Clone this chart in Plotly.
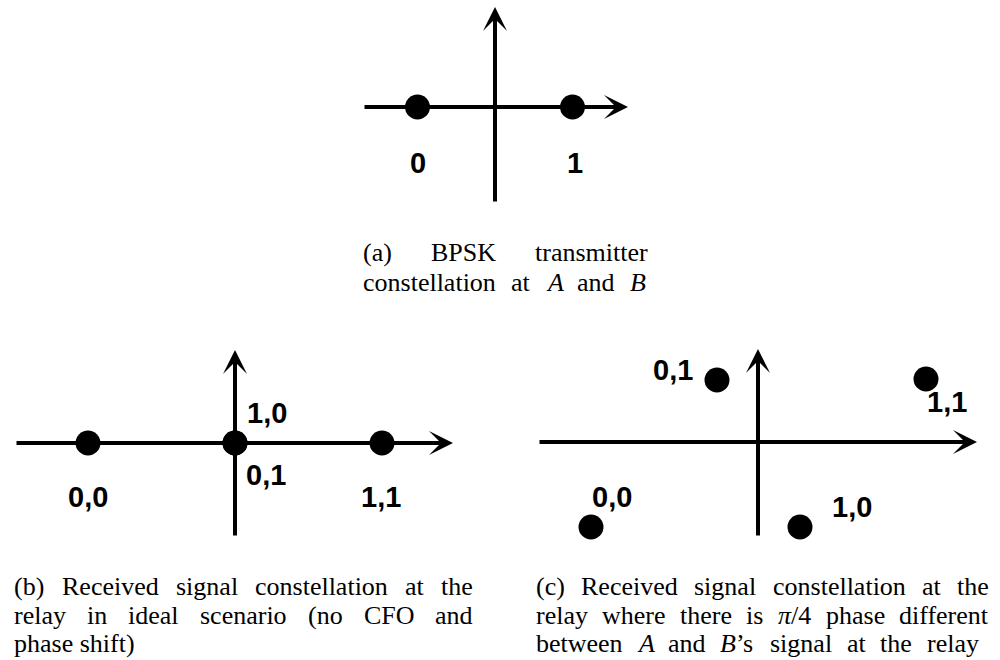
import plotly.graph_objects as go

# ---------------- data ----------------
# (a) BPSK transmitter constellation
a_x = [-1, 1]
a_y = [0, 0]
a_labels = ["0", "1"]

# (b) received constellation at relay, ideal scenario
b_x = [-2, 0, 0, 2]
b_y = [0, 0, 0, 0]
b_labels = ["0,0", "1,0", "0,1", "1,1"]

# (c) received constellation at relay with pi/4 phase difference
c_x = [-1.67, 0.42, -0.41, 1.68]
c_y = [-0.85, -0.85, 0.62, 0.63]
c_labels = ["0,0", "1,0", "0,1", "1,1"]

caption_a = ["(a) BPSK transmitter",
             "constellation at <i>A</i> and <i>B</i>"]
caption_b = ["(b) Received signal constellation at the",
             "relay in ideal scenario (no CFO and",
             "phase shift)"]
caption_c = ["(c) Received signal constellation at the",
             "relay where there is <i>π</i>/4 phase different",
             "between <i>A</i> and <i>B</i>’s signal at the relay"]

# ---------------- layout geometry (pixels) ----------------
W, H = 1000, 660

panels = {
    "a": dict(box=(330, 670, 0, 225), origin=(495, 107), unit=77.5, ext=(363, 628, 7, 203),
              shifts=[(0, -56), (2, -56)]),
    "b": dict(box=(0, 480, 330, 545), origin=(235, 443), unit=73.5, ext=(15, 453, 350, 537),
              shifts=[(0, -54), (32, 30), (31, -32), (-1, -54)]),
    "c": dict(box=(520, 1000, 330, 545), origin=(758, 442), unit=100, ext=(538, 977, 349, 537),
              shifts=[(21, 30), (52, 20), (-44, 10), (21, -23)]),
}
data = {"a": (a_x, a_y, a_labels), "b": (b_x, b_y, b_labels), "c": (c_x, c_y, c_labels)}

# caption lines: (text, left px, right px or None for natural width, centre y px)
caption_layout = {
    "a": [(caption_a[0], 362, 647, 252), (caption_a[1], 362, 645, 282)],
    "b": [(caption_b[0], 13, 472, 586), (caption_b[1], 13, 472, 615), (caption_b[2], 13, None, 643)],
    "c": [(caption_c[0], 535, 988, 586), (caption_c[1], 535, 988, 615), (caption_c[2], 535, 978, 643)],
}

CAP_SIZE = 26
label_font = dict(family="Liberation Sans, Arial, sans-serif", size=29, color="black")
cap_font = dict(family="Liberation Serif, Times New Roman, serif", size=CAP_SIZE, color="black")

# Times-Roman advance widths (1/1000 em); Liberation Serif is metric compatible
TIMES = {" ": 250, "(": 333, ")": 333, "/": 278, "4": 500, "’": 333,
         "a": 444, "b": 500, "c": 444, "d": 500, "e": 444, "f": 333, "g": 500, "h": 500,
         "i": 278, "l": 278, "m": 778, "n": 500, "o": 500, "p": 500, "r": 333, "s": 389,
         "t": 278, "v": 500, "w": 722, "y": 500, "A": 722, "B": 667, "C": 667, "F": 556,
         "K": 722, "O": 722, "P": 556, "R": 667, "S": 556}
TIMES_I = {"A": 611, "B": 611, "π": 520}


def text_width(s, size):
    w, italic, i = 0, False, 0
    while i < len(s):
        if s.startswith("<i>", i):
            italic, i = True, i + 3
            continue
        if s.startswith("</i>", i):
            italic, i = False, i + 4
            continue
        ch = s[i]
        w += TIMES_I[ch] if (italic and ch in TIMES_I) else TIMES.get(ch, 500)
        i += 1
    return w * size / 1000.0


def px(xp):
    return xp / W


def py(yp):
    return 1 - yp / H


fig = go.Figure()
annotations = []

for i, key in enumerate(["a", "b", "c"]):
    p = panels[key]
    x0, x1, y0, y1 = p["box"]
    ox, oy = p["origin"]
    u = p["unit"]
    xa = "xaxis" if i == 0 else f"xaxis{i+1}"
    ya = "yaxis" if i == 0 else f"yaxis{i+1}"
    xr = "x" if i == 0 else f"x{i+1}"
    yr = "y" if i == 0 else f"y{i+1}"
    fig.update_layout({
        xa: dict(domain=[px(x0), px(x1)], range=[(x0 - ox) / u, (x1 - ox) / u],
                 visible=False, fixedrange=True, anchor=yr),
        ya: dict(domain=[py(y1), py(y0)], range=[(oy - y1) / u, (oy - y0) / u],
                 visible=False, fixedrange=True, anchor=xr),
    })
    # coordinate axes drawn as arrows
    L, R, T, B = p["ext"]
    annotations.append(dict(x=(R - ox) / u, y=0, ax=(L - ox) / u, ay=0, xref=xr, yref=yr,
                            axref=xr, ayref=yr, text="", showarrow=True, arrowhead=3,
                            arrowsize=1, arrowwidth=4, arrowcolor="black"))
    annotations.append(dict(x=0, y=(oy - T) / u, ax=0, ay=(oy - B) / u, xref=xr, yref=yr,
                            axref=xr, ayref=yr, text="", showarrow=True, arrowhead=3,
                            arrowsize=1, arrowwidth=4, arrowcolor="black"))
    xs, ys, labs = data[key]
    for (lx, ly, lt, (sx, sy)) in zip(xs, ys, labs, p["shifts"]):
        annotations.append(dict(x=lx, y=ly, xref=xr, yref=yr, text=f"<b>{lt}</b>",
                                showarrow=False, xshift=sx, yshift=sy, font=label_font,
                                xanchor="center", yanchor="middle"))
    fig.add_trace(go.Scatter(x=xs, y=ys, mode="markers", xaxis=xr, yaxis=yr,
                             marker=dict(size=25, color="black"), cliponaxis=False,
                             showlegend=False, hoverinfo="skip"))
    # captions (justified word by word where the reference is justified)
    for (line, left, right, cy) in caption_layout[key]:
        words = line.split(" ")
        if right is None or len(words) == 1:
            annotations.append(dict(x=px(left), y=py(cy), xref="paper", yref="paper",
                                    text=line, showarrow=False, xanchor="left",
                                    yanchor="middle", font=cap_font, borderpad=0))
            continue
        widths = [text_width(w, CAP_SIZE) for w in words]
        gap = (right - left - sum(widths)) / (len(words) - 1)
        xcur = left
        for w, ww in zip(words, widths):
            annotations.append(dict(x=px(xcur), y=py(cy), xref="paper", yref="paper",
                                    text=w, showarrow=False, xanchor="left",
                                    yanchor="middle", font=cap_font, borderpad=0))
            xcur += ww + gap

fig.update_layout(width=W, height=H, autosize=False, margin=dict(l=0, r=0, t=0, b=0),
                  paper_bgcolor="white", plot_bgcolor="white", annotations=annotations,
                  showlegend=False)
fig.write_html("out.html", config={"displayModeBar": False},
               post_script="document.body.style.margin='0px';")
